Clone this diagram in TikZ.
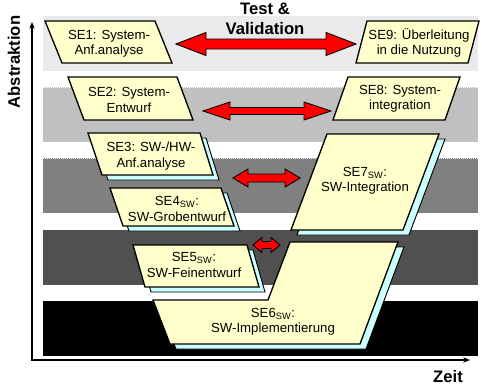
\documentclass[tikz,border=0pt]{standalone}
\usepackage{fontspec}
\setmainfont{Liberation Sans}
\usetikzlibrary{arrows.meta}
\definecolor{phaseyellow}{RGB}{255,255,204}
\definecolor{shadowblue}{RGB}{204,255,255}
\definecolor{bandone}{RGB}{234,234,234}
\definecolor{bandtwo}{RGB}{192,192,192}
\definecolor{bandthree}{RGB}{128,128,128}
\definecolor{bandfour}{RGB}{80,80,80}

\tikzset{
  phase/.style={draw=black, fill=phaseyellow, line width=1pt, line join=miter},
  phaseshadow/.style={draw=black, fill=shadowblue, line width=0.7pt, shift={(6,5)}},
  phasetext/.style={font=\fontsize{9.9}{11.4}\selectfont, align=center, inner sep=0pt},
  tvarrow/.style={draw=black, fill=red, line width=0.7pt, line join=miter},
  axislabel/.style={font=\fontsize{12.5}{15}\selectfont\bfseries, inner sep=0pt},
  axis/.style={line width=1pt, {Stealth[length=5pt,width=4pt]}-{Stealth[length=5pt,width=4pt]}}
}

\begin{document}
\begin{tikzpicture}[x=0.75pt, y=-0.75pt]
    \useasboundingbox (0,0) rectangle (482,386);
    % abstraction levels
    \fill[bandone] (43,16) rectangle (478,71);
    \fill[bandtwo] (43,87) rectangle (478,142);
    \fill[bandthree] (43,158) rectangle (478,213);
    \fill[bandfour] (43,230) rectangle (478,285);
    \fill[black] (43,301) rectangle (478,356);
    \draw[white, densely dotted, line width=0.5pt] (43,87.5) -- (478,87.5) (43,158.5) -- (478,158.5);

    % axes
    \coordinate (origin) at (32,360);
    \coordinate (abstop) at (32,22);
    \coordinate (timeend) at (470,360);
    \draw[axis] (abstop) -- (origin) -- (timeend);
    \node[axislabel, rotate=90] (abstraktion) at (14,62) {Abstraktion};
    \node[axislabel] (zeit) at (448,377) {Zeit};
    \node[axislabel, align=center] (testval) at (265,19) {Test \&\\Validation};

    % shadows
    \draw[phaseshadow] (88,133) -- (200,133) -- (213,175) -- (102,175) -- cycle;
    \draw[phaseshadow] (110,188) -- (221,188) -- (234,226) -- (123,226) -- cycle;
    \draw[phaseshadow] (133,245) -- (247,245) -- (259,287) -- (145,287) -- cycle;
    \draw[phaseshadow] (327,134) -- (439,134) -- (403,230) -- (291,230) -- cycle;
    \draw[phaseshadow] (153,300) -- (268,300) -- (290,242) -- (398,242) -- (360,344) -- (170,344) -- cycle;

    % phases
    \draw[phase] (45,21) -- (155,21) -- (172,63) -- (62,63) -- cycle;
    \draw[phase] (367,21) -- (479,21) -- (468,63) -- (356,63) -- cycle;
    \draw[phase] (68,77) -- (177,77) -- (193,120) -- (84,120) -- cycle;
    \draw[phase] (348,77) -- (460,77) -- (445,120) -- (333,120) -- cycle;
    \draw[phase] (88,133) -- (200,133) -- (213,175) -- (102,175) -- cycle;
    \draw[phase] (110,188) -- (221,188) -- (234,226) -- (123,226) -- cycle;
    \draw[phase] (133,245) -- (247,245) -- (259,287) -- (145,287) -- cycle;
    \draw[phase] (327,134) -- (439,134) -- (403,230) -- (291,230) -- cycle;
    \draw[phase] (153,300) -- (268,300) -- (290,242) -- (398,242) -- (360,344) -- (170,344) -- cycle;

    \node[phasetext] (se1) at (109,44) {SE1: System-\\Anf.analyse};
    \node[phasetext] (se2) at (129,100) {SE2: System-\\Entwurf};
    \node[phasetext] (se3) at (151,156) {SE3: SW-/HW-\\Anf.analyse};
    \node[phasetext] (se4) at (177,209) {SE4\textsubscript{SW}:\\SW-Grobentwurf};
    \node[phasetext] (se5) at (194,265) {SE5\textsubscript{SW}:\\SW-Feinentwurf};
    \node[phasetext] (se6) at (273,322) {SE6\textsubscript{SW}:\\SW-Implementierung};
    \node[phasetext] (se7) at (365,181) {SE7\textsubscript{SW}:\\SW-Integration};
    \node[phasetext] (se8) at (400,99) {SE8: System-\\integration};
    \node[phasetext] (se9) at (419,43) {SE9: Überleitung\\in die Nutzung};

    % test & validation arrows
    \foreach \xa/\xb/\ym/\s/\h/\l in {176/356/44/5/11.5/30, 203/331/111/3.5/9/27, 233/300/178/4/9/15, 253/280/245/3.5/7.5/9}
      \draw[tvarrow] (\xa,\ym) -- (\xa+\l,\ym-\h) -- (\xa+\l,\ym-\s) -- (\xb-\l,\ym-\s) -- (\xb-\l,\ym-\h)
        -- (\xb,\ym) -- (\xb-\l,\ym+\h) -- (\xb-\l,\ym+\s) -- (\xa+\l,\ym+\s) -- (\xa+\l,\ym+\h) -- cycle;
  \end{tikzpicture}
\end{document}
